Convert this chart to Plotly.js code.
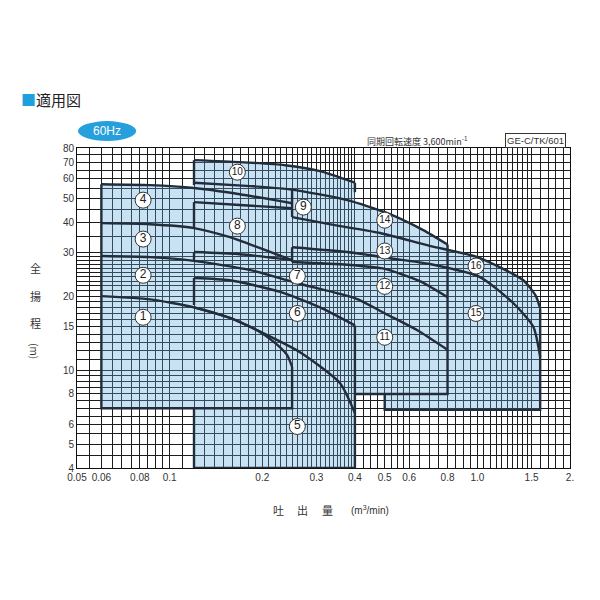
<!DOCTYPE html>
<html>
<head>
<meta charset="utf-8">
<script src="https://cdn.plot.ly/plotly-3.0.1.min.js"></script>
<style>body{margin:0;background:#fff}</style>
</head>
<body>
<div id="myDiv" style="width:600px;height:600px"></div>
<script>
// axis ticks
var xTicks = [0.05, 0.06, 0.08, 0.1, 0.2, 0.3, 0.4, 0.5, 0.6, 0.8, 1, 1.5, 2];
var xTickText = ["0.05", "0.06", "0.08", "0.1", "0.2", "0.3", "0.4", "0.5", "0.6", "0.8", "1.0", "1.5", "2."];
var yTicks = [4, 5, 6, 8, 10, 15, 20, 30, 40, 50, 60, 70, 80];

// performance curves, Q (m3/min) vs H (m)
var qC1 = [0.06, 0.0864, 0.12, 0.157, 0.193, 0.22, 0.241, 0.25];
var hC1 = [20, 19.4, 18, 16.3, 14.5, 12.9, 11.5, 10.3];
var qC2 = [0.06, 0.0864, 0.12, 0.183, 0.266, 0.4, 0.51, 0.64, 0.8];
var hC2 = [29.1, 28.8, 27.8, 25.5, 22.4, 19.6, 16.8, 14.5, 12.1];
var qC3 = [0.06, 0.0864, 0.12, 0.157, 0.197, 0.25];
var hC3 = [39.6, 39.2, 37.8, 34.7, 31.3, 28];
var qC4 = [0.06, 0.0864, 0.12, 0.169, 0.25];
var hC4 = [57, 56.5, 55, 51.9, 47.7];
var qC5 = [0.12, 0.157, 0.193, 0.266, 0.358, 0.4];
var hC5 = [18, 16.3, 14.5, 11.8, 8.85, 6.69];
var qC6 = [0.12, 0.157, 0.229, 0.308, 0.4];
var hC6 = [23.7, 23.2, 20.8, 18, 15.2];
var qC7 = [0.12, 0.169, 0.25];
var hC7 = [30.2, 29.6, 28];
var qC8 = [0.12, 0.169, 0.25];
var hC8 = [48.2, 46.9, 45.5];
var qC10 = [0.12, 0.169, 0.237, 0.308, 0.4];
var hC10 = [71.4, 70.1, 68.1, 64.4, 57.8];
var qC12 = [0.25, 0.378, 0.5, 0.65, 0.8];
var hC12 = [27.5, 26.8, 25.8, 23, 19.8];
var qC13 = [0.25, 0.378, 0.52, 0.7, 1.02, 1.31, 1.52, 1.6];
var hC13 = [31.6, 30.2, 28.5, 27, 23.9, 18.7, 15, 11.3];
var qC14 = [0.12, 0.183, 0.25, 0.378, 0.51, 0.667, 0.8];
var hC14 = [57.8, 56, 54.2, 49.1, 43.5, 37.1, 32.4];
var qC16 = [0.25, 0.358, 0.483, 0.7, 1.0, 1.41, 1.55, 1.6];
var hC16 = [41.9, 38.5, 36.1, 32, 28.8, 23.2, 20, 17.8];

// straight limits of the ranges
var qEdges = [
  [0.25, 0.25, 0.06, 0.06],
  [0.12, 0.12, 0.4, 0.4],
  [0.12, 0.12], [0.12, 0.12], [0.12, 0.12], [0.12, 0.12], [0.4, 0.4],
  [0.8, 0.8, 0.4],
  [0.25, 0.25], [0.25, 0.25],
  [1.6, 1.6, 0.5, 0.5]
];
var hEdges = [
  [10.3, 7, 7, 57],
  [7, 4, 4, 15.2],
  [18.4, 23.7], [28, 30.2], [37.8, 48.2], [56.5, 71.4], [57.8, 52.9],
  [32.4, 8, 8],
  [54.2, 41.9], [27.5, 31.6],
  [17.8, 6.9, 6.9, 8]
];

// covered area (outline)
var qArea = [0.06, 0.06, 0.0864, 0.12, 0.12, 0.169, 0.237, 0.308, 0.4, 0.4, 0.51, 0.667, 0.8, 0.8, 1.0, 1.41, 1.55, 1.6, 1.6, 0.5, 0.5, 0.4, 0.4, 0.12, 0.12, 0.06];
var hArea = [7, 57, 56.5, 55, 71.4, 70.1, 68.1, 64.4, 57.8, 48.3, 43.5, 37.1, 32.4, 31, 28.8, 23.2, 20, 17.8, 6.9, 6.9, 8, 8, 4, 4, 7, 7];

// model labels
var labels = ["1", "2", "3", "4", "5", "6", "7", "8", "9", "10", "11", "12", "13", "14", "15", "16"];
var qLabel = [0.082, 0.082, 0.082, 0.082, 0.26, 0.26, 0.26, 0.166, 0.272, 0.166, 0.5, 0.5, 0.5, 0.5, 0.99, 0.99];
var hLabel = [16.4, 24.3, 34.1, 49.1, 5.9, 17, 24.1, 38.5, 46, 63.8, 13.6, 21.9, 30.5, 40.7, 17, 26.5];

function steps(a, b, d) {
  var out = [];
  for (var v = a; v < b - d / 2; v += d) out.push(+v.toFixed(4));
  return out;
}
var xGrid = [].concat(steps(0.05, 0.1, 0.005), steps(0.1, 0.4, 0.01), steps(0.4, 0.6, 0.025),
  steps(0.6, 1.0, 0.05), steps(1.0, 1.5, 0.05), steps(1.5, 2.0, 0.1));
var yGrid = [].concat(steps(4, 10, 0.5), steps(10, 30, 1), steps(30, 80, 5));

var lineCol = "rgb(34,44,58)";
var data = [{
  x: qArea, y: hArea, mode: "lines", fill: "toself",
  fillcolor: "rgba(95,170,220,0.34)", line: { width: 0 }, hoverinfo: "skip"
}];

[[qC1, hC1], [qC2, hC2], [qC3, hC3], [qC4, hC4], [qC5, hC5], [qC6, hC6], [qC7, hC7], [qC8, hC8],
 [qC10, hC10], [qC12, hC12], [qC13, hC13], [qC14, hC14], [qC16, hC16]].forEach(function (c) {
  data.push({ x: c[0], y: c[1], mode: "lines", line: { color: lineCol, width: 2.4, shape: "spline", smoothing: 0.6 }, hoverinfo: "skip" });
});
qEdges.forEach(function (q, i) {
  data.push({ x: q, y: hEdges[i], mode: "lines", line: { color: lineCol, width: 2.4 }, hoverinfo: "skip" });
});
data.push({
  x: qLabel, y: hLabel, text: labels, mode: "markers+text", textposition: "middle center",
  marker: { size: 16, color: "white", line: { color: "#333", width: 1 } },
  textfont: { family: "Liberation Sans", color: "#222", size: labels.map(function (s) { return s.length > 1 ? 10 : 12; }) },
  hoverinfo: "skip"
});

function note(x, y, text, font, extra) {
  var a = { xref: "paper", yref: "paper", x: x, y: y, xanchor: "center", yanchor: "middle",
    showarrow: false, text: text, font: font };
  for (var k in extra || {}) a[k] = extra[k];
  return a;
}
var jp = function (size) { return { family: "Noto Sans CJK JP", size: size, color: "#333" }; };

var gridCol = "#1c1c1c";
var layout = {
  width: 600, height: 600,
  margin: { l: 77, r: 30, t: 148, b: 132 },
  paper_bgcolor: "white", plot_bgcolor: "white",
  showlegend: false,
  font: { family: "Liberation Sans", size: 10, color: "#333" },
  xaxis: {
    type: "log", range: [Math.log10(0.05), Math.log10(2)],
    tickvals: xTicks, ticktext: xTickText, ticks: "",
    showgrid: true, gridcolor: gridCol, gridwidth: 1,
    minor: { tickvals: xGrid, showgrid: true, gridcolor: gridCol, gridwidth: 1, ticks: "" },
    showline: true, mirror: true, linecolor: "#111", linewidth: 1, zeroline: false,
    tickfont: { size: 10, color: "#333" }
  },
  yaxis: {
    type: "log", range: [Math.log10(4), Math.log10(80)],
    tickvals: yTicks, ticks: "",
    showgrid: true, gridcolor: gridCol, gridwidth: 1,
    minor: { tickvals: yGrid, showgrid: true, gridcolor: gridCol, gridwidth: 1, ticks: "" },
    showline: true, mirror: true, linecolor: "#111", linewidth: 1, zeroline: false,
    tickfont: { size: 10, color: "#333" }
  },
  shapes: [
    { type: "circle", xref: "paper", yref: "paper", x0: 0.002, x1: 0.12, y0: 1.022, y1: 1.084,
      fillcolor: "rgb(38,160,220)", line: { width: 0 }, layer: "below" }
  ],
  annotations: [
    note(-0.118, 1.153, "<span style='color:rgb(30,160,220)'>■</span>適用図",
      { family: "Noto Sans CJK JP", size: 15, color: "#222" }, { xanchor: "left" }),
    note(0.061, 1.053, "60Hz", { family: "Liberation Sans", size: 12, color: "white" }),
    note(0.797, 1.022, "同期回転速度 3,600min<sup>-1</sup>", jp(9), { xanchor: "right" }),
    note(0.931, 1.022, "GE-C/TK/601", { family: "Liberation Sans", size: 9.5, color: "#333" },
      { bordercolor: "#333", borderwidth: 1, borderpad: 1, bgcolor: "white" }),
    note(-0.085, 0.625, "全", jp(11)),
    note(-0.085, 0.538, "揚", jp(11)),
    note(-0.085, 0.453, "程", jp(11)),
    note(-0.085, 0.365, "(m)", jp(10), { textangle: 90 }),
    note(0.408, -0.131, "吐", jp(11)),
    note(0.458, -0.131, "出", jp(11)),
    note(0.509, -0.131, "量", jp(11)),
    note(0.594, -0.131, "(m<sup>3</sup>/min)", { family: "Liberation Sans", size: 10, color: "#333" })
  ]
};
Plotly.newPlot("myDiv", data, layout, { staticPlot: true });
</script>
</body>
</html>
